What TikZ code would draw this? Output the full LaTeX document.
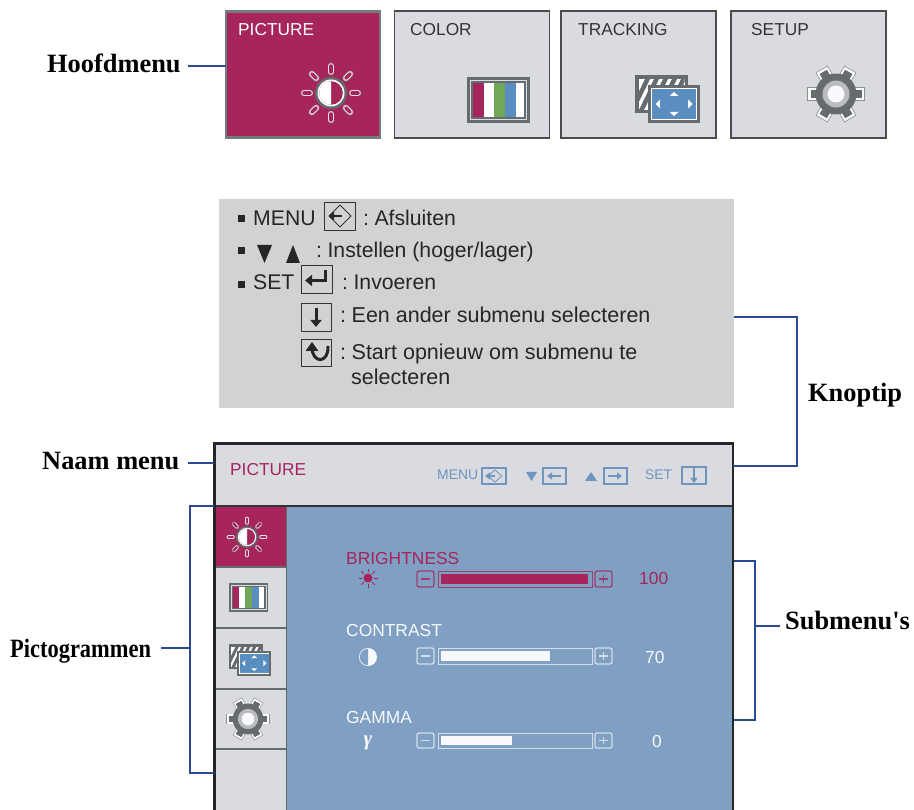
\documentclass[tikz,border=0pt]{standalone}
\usepackage{fontspec}
\usepackage{graphicx}
\setmainfont{Liberation Sans}
\newfontfamily\serfont{Liberation Serif}
\definecolor{maroon}{HTML}{A6255A}
\definecolor{tilegrey}{HTML}{DADBE0}
\definecolor{tipgrey}{HTML}{D1D2D4}
\definecolor{panelblue}{HTML}{7FA0C3}
\definecolor{iconblue}{HTML}{5A8DC0}
\definecolor{hdrblue}{HTML}{6F95BE}
\definecolor{darkgrey}{HTML}{666B6E}
\definecolor{conncol}{HTML}{2B4A93}
\definecolor{barwhite}{HTML}{F7F9FC}
\definecolor{barline}{HTML}{D5DEE8}
\definecolor{green1}{HTML}{70A858}
\usetikzlibrary{arrows.meta}
\tikzset{
  conn/.style={draw=conncol,line width=2.2pt},
  lbl/.style={anchor=base west,inner sep=0pt,font=\serfont\bfseries\fontsize{26.4}{28}\selectfont,text=black},
  tip/.style={anchor=base west,inner sep=0pt,font=\fontsize{21.2}{24}\selectfont,text=black!85},
  tipb/.style={anchor=base west,inner sep=0pt,font=\fontsize{21.5}{24}\selectfont,text=black!85},
  ui/.style={anchor=base west,inner sep=0pt,font=\fontsize{17.3}{19}\selectfont},
  sub/.style={anchor=base west,inner sep=0pt,font=\fontsize{17.4}{19}\selectfont},
  hdrtxt/.style={anchor=base west,inner sep=0pt,font=\fontsize{13.9}{15}\selectfont,text=hdrblue},
  tile/.style={draw=black!70,line width=1.2pt,fill=tilegrey,minimum width=155pt,minimum height=127pt,inner sep=0pt},
  keybox/.style={draw=black!80,line width=.9pt,fill=tipgrey},
  keyarrow/.style={line width=3pt,black!85,-{Triangle[length=7pt,width=11pt]}},
  hdrkey/.style={draw=hdrblue,line width=1.1pt},
  hdrarrow/.style={line width=1.9pt,hdrblue,-{Triangle[length=5pt,width=7pt]}},
  bulletm/.style={fill=black!85},
}
\newcommand{\colgap}{:\hspace{5.5pt}}
% sun icon
\newcommand{\sunicon}[3]{%
  \begin{scope}[shift={(#1,#2)},scale=#3]
    \foreach \a in {0,45,...,315}{
      \draw[line cap=round,darkgrey!70,line width=#3*6.6pt] (\a:21)--(\a:27);
      \draw[line cap=round,white!85!maroon,line width=#3*5.2pt] (\a:21)--(\a:27);
      \draw[line cap=round,maroon,line width=#3*3.4pt] (\a:21)--(\a:27);
    }
    \fill[darkgrey] (0,0) circle[radius=16];
    \fill[white] (0,0) circle[radius=13.5];
    \fill[maroon] (0,0) circle[radius=11.8];
    \fill[white] (0,-11.8) arc[start angle=-90,end angle=-270,radius=11.8]--cycle;
  \end{scope}}
% colour bars icon
\newcommand{\barsicon}[3]{%
  \begin{scope}[shift={(#1,#2)},scale=#3]
    \fill[darkgrey] (-31.5,-23) rectangle (31.5,23);
    \draw[barline,line width=#3*.7pt] (-28,-19.5) rectangle (28,19.5);
    \fill[darkgrey] (-27,-18.5) rectangle (27,18.5);
    \fill[maroon] (-25.5,-17) rectangle (-15,17);
    \fill[white] (-15,-17) rectangle (-5,17);
    \fill[green1] (-5,-17) rectangle (6,17);
    \fill[iconblue] (6,-17) rectangle (17,17);
    \fill[white] (17,-17) rectangle (25.5,17);
  \end{scope}}
% tracking icon
\newcommand{\trackicon}[3]{%
  \begin{scope}[shift={(#1,#2)},scale=#3]
    \fill[darkgrey] (-32.5,-24) rectangle (20.5,14);
    \fill[white] (-29,-20) rectangle (17,11);
    \begin{scope}
      \clip (-29,-20) rectangle (17,11);
      \foreach \i in {0,1,...,6}{
        \fill[darkgrey] (-38+\i*9,12)--(-33+\i*9,12)--(-17+\i*9,-21)--(-22+\i*9,-21)--cycle;
      }
    \end{scope}
    \fill[darkgrey] (-19.5,-14) rectangle (32.5,24);
    \fill[white] (-16.5,-11) rectangle (29.5,21);
    \fill[iconblue] (-15.5,-10) rectangle (28.5,20);
    \fill[white] (6.5,-7)--(2,-3)--(11,-3)--cycle;
    \fill[white] (6.5,17)--(2,13)--(11,13)--cycle;
    \fill[white] (-12,5)--(-7.5,0.5)--(-7.5,9.5)--cycle;
    \fill[white] (25,5)--(20.5,0.5)--(20.5,9.5)--cycle;
  \end{scope}}
% gear icon
\newcommand{\gearicon}[3]{%
  \begin{scope}[shift={(#1,#2)},scale=#3]
    \foreach \a in {0,60,...,300}{
      \draw[darkgrey!75,line width=#3*14pt] (\a:16)--(\a:28.8);
      \draw[white,line width=#3*12.4pt] (\a:16)--(\a:28);
      \draw[darkgrey,line width=#3*8.5pt] (\a:16)--(\a:25.5);
    }
    \fill[darkgrey] (0,0) circle[radius=20.5];
    \fill[white!55!darkgrey] (0,0) circle[radius=13.5];
    \fill[barwhite] (0,0) circle[radius=8.5];
  \end{scope}}
% slider
\newcommand{\slider}[6]{%
  \draw[#5,line width=1.3pt,rounded corners=2pt] (417,#2) rectangle (434,#3);
  \draw[#5,line width=1.2pt] (421,{(#2+#3)/2})--(430,{(#2+#3)/2});
  \node[draw=#5,line width=1.3pt,inner sep=0pt,anchor=north west,minimum width=154pt,minimum height=#3pt-#2pt] (#1) at (438,#2) {};
  \fill[#6] (440.5,#2+2.8) rectangle (#4,#3-2.8);
  \draw[#5,line width=1.3pt,rounded corners=2pt] (595,#2) rectangle (612,#3);
  \draw[#5,line width=1.2pt] (599,{(#2+#3)/2})--(608,{(#2+#3)/2}) (603.5,#2+4)--(603.5,#3-4);
}
\begin{document}
\begin{tikzpicture}[x=1pt,y=-1pt]
\useasboundingbox (0,0) rectangle (914,810);
% main menu tiles
\node[tile,fill=maroon,draw=darkgrey!90,line width=2.6pt,outer sep=0pt,anchor=north west,minimum width=154pt,minimum height=126.4pt] (tPic) at (226,11.3) {};
\node[tile,anchor=north west] (tCol) at (393.9,10.4) {};
\node[tile,anchor=north west] (tTrk) at (560.4,10.4) {};
\node[tile,anchor=north west] (tSet) at (730.4,10.4) {};
\node[ui,text=white] (nPic) at (238,36) {PICTURE};
\node[ui,text=black!80] (nCol) at (410,36) {COLOR};
\node[ui,text=black!80] (nTrk) at (578,36) {TRACKING};
\node[ui,text=black!80] (nSet) at (751,36) {SETUP};
\sunicon{331}{93}{1}
\barsicon{498.5}{100}{1}
\trackicon{667.5}{99}{1}
\gearicon{836}{94}{1}
% tip box
\node[fill=tipgrey,anchor=north west,minimum width=515pt,minimum height=209pt,inner sep=0pt] (tipbox) at (219,199) {};
\fill[bulletm] (238,215) rectangle (245,222);
\fill[bulletm] (238,247) rectangle (245,254);
\fill[bulletm] (238,281) rectangle (245,288);
\node[tip] (t1a) at (253,226) {MENU};
\node[keybox,anchor=north west,minimum width=31pt,minimum height=28pt,inner sep=0pt] (k1) at (324,202) {};
\draw[black!80,line width=.8pt] (340,205)--(351,216)--(340,227)--(329,216)--cycle;
\draw[line width=2.2pt,black!85,-{Triangle[length=5pt,width=8pt]}] (342,216)--(329,216);
\node[tip] (t1b) at (363,226) {\colgap Afsluiten};
\fill[bulletm] (257,245) -- (272,245) -- (264.5,263) -- cycle;
\fill[bulletm] (286,263) -- (300,263) -- (293,245) -- cycle;
\node[tip] (t2) at (316,258) {\colgap Instellen (hoger/lager)};
\node[tip] (t3a) at (253,290) {SET};
\node[keybox,anchor=north west,minimum width=31pt,minimum height=28pt,inner sep=0pt] (k2) at (301,265) {};
\draw[keyarrow] (325.5,270)--(325.5,280.5)--(305,280.5);
\node[tip] (t3b) at (342,290) {\colgap Invoeren};
\node[keybox,anchor=north west,minimum width=30pt,minimum height=28pt,inner sep=0pt] (k3) at (301,303) {};
\draw[keyarrow] (316,308)--(316,327);
\node[tipb] (t4) at (340,323) {\colgap Een ander submenu selecteren};
\node[keybox,anchor=north west,minimum width=30pt,minimum height=27pt,inner sep=0pt] (k4) at (301,339) {};
\draw[line width=3pt,black!85] (312,347) .. controls (312,364) and (329,364) .. (328,346);
\fill[black!85] (312,342)--(305.5,351)--(318.5,351)--cycle;
\node[tipb] (t5) at (340,360) {\colgap Start opnieuw om submenu te};
\node[tipb] (t6) at (351,385) {selecteren};
% panel
\fill[panelblue] (286,506) rectangle (733,810);
\fill[tilegrey] (214,443) rectangle (733,506);
\fill[tilegrey] (214,506) rectangle (286,810);
\node[fill=maroon,anchor=north west,minimum width=71pt,minimum height=60pt,inner sep=0pt] (rowSel) at (215,507) {};
\draw[darkgrey,line width=1.4pt] (215,567)--(286,567) (215,628)--(286,628) (215,689)--(286,689) (215,749)--(286,749);
\draw[darkgrey,line width=1pt] (286,506)--(286,810);
\draw[black!80,line width=1.2pt] (214,506)--(733,506);
\draw[black!85,line width=2.4pt] (214.5,810)--(214.5,443.5)--(733,443.5)--(733,810);
\coordinate (panelL) at (214,443);
\coordinate (panelR) at (733,443);
\node[ui,text=maroon] (hPic) at (230,476) {PICTURE};
\node[hdrtxt] (hMenu) at (437,479) {MENU};
\draw[hdrkey] (482,468) rectangle (506,484);
\draw[hdrkey,line width=.8pt] (495,470)--(502,476)--(495,482)--(488,476)--cycle;
\draw[hdrarrow,line width=1.4pt] (495,476)--(485,476);
\fill[hdrblue] (526,472)--(537,472)--(531.5,481)--cycle;
\draw[hdrkey] (543,468) rectangle (566,484);
\draw[hdrarrow] (561,476)--(547,476);
\fill[hdrblue] (585,481)--(597,481)--(591,472)--cycle;
\draw[hdrkey] (604,468) rectangle (627,484);
\draw[hdrarrow] (608,476)--(622,476);
\node[hdrtxt] (hSet) at (645,479) {SET};
\draw[hdrkey] (682,467) rectangle (706,484);
\draw[hdrarrow] (694,468)--(694,483);
% side icons
\sunicon{247}{537}{.68}
\barsicon{248.5}{597.5}{.62}
\trackicon{250}{660}{.65}
\gearicon{248}{719}{.75}
% sliders
\node[sub,text=maroon] (sB) at (346,564) {BRIGHTNESS};
\node[sub,text=barwhite] (sC) at (346,636) {CONTRAST};
\node[sub,text=barwhite] (sG) at (346,723) {GAMMA};
\slider{barB}{571}{587}{588}{maroon!80!panelblue}{maroon}
\slider{barC}{648}{664}{550}{barline}{barwhite}
\slider{barG}{733}{748}{512}{barline}{barwhite}
\node[sub,text=maroon] (vB) at (639,584) {100};
\node[sub,text=barwhite] (vC) at (645,663) {70};
\node[sub,text=barwhite] (vG) at (652,747) {0};
\foreach \a in {0,45,...,315}{\draw[maroon,line width=.9pt] (368,578)++(\a:6)--++(\a:3.5);}
\fill[maroon] (368,578) circle[radius=4.5];
\fill[barwhite] (368,657) circle[radius=9];
\fill[panelblue] (368,648.8) arc[start angle=-90,end angle=-270,radius=8.2]--cycle;
\node[anchor=base,inner sep=0pt,text=barwhite,font=\serfont\bfseries\itshape\fontsize{21}{22}\selectfont] (gam) at (368,745) {γ};
% labels
\node[lbl] (lH) at (47,73) {Hoofdmenu};
\node[lbl] (lN) at (42,470) {Naam menu};
\node[lbl] (lP) at (10,657) {\scalebox{.85}[1]{Pictogrammen}};
\node[lbl] (lK) at (808,402) {Knoptip};
\node[lbl] (lS) at (785,629) {Submenu's};
% connectors
\coordinate (cH) at (188,66);
\draw[conn] (cH) -- (cH -| tPic.west);
\coordinate (cN) at (188,463);
\draw[conn] (cN) -- (cN -| panelL);
\coordinate (cK1) at (tipbox.east |- 0,317);
\coordinate (cK2) at (panelR |- 0,466);
\draw[conn] (cK1) -- (797,317) -- (797,466) -- (cK2);
\coordinate (cS1) at (734,561);
\coordinate (cS2) at (734,720);
\draw[conn] (cS1) -- (755,561) -- (755,720) -- (cS2);
\coordinate (cS3) at (780,626);
\draw[conn] (cS3) -- (755,626);
\coordinate (cP1) at (214,506);
\coordinate (cP2) at (214,773);
\draw[conn] (cP1) -- (190,506) -- (190,773) -- (cP2);
\coordinate (cP3) at (161,648);
\draw[conn] (cP3) -- (190,648);
\end{tikzpicture}
\end{document}
